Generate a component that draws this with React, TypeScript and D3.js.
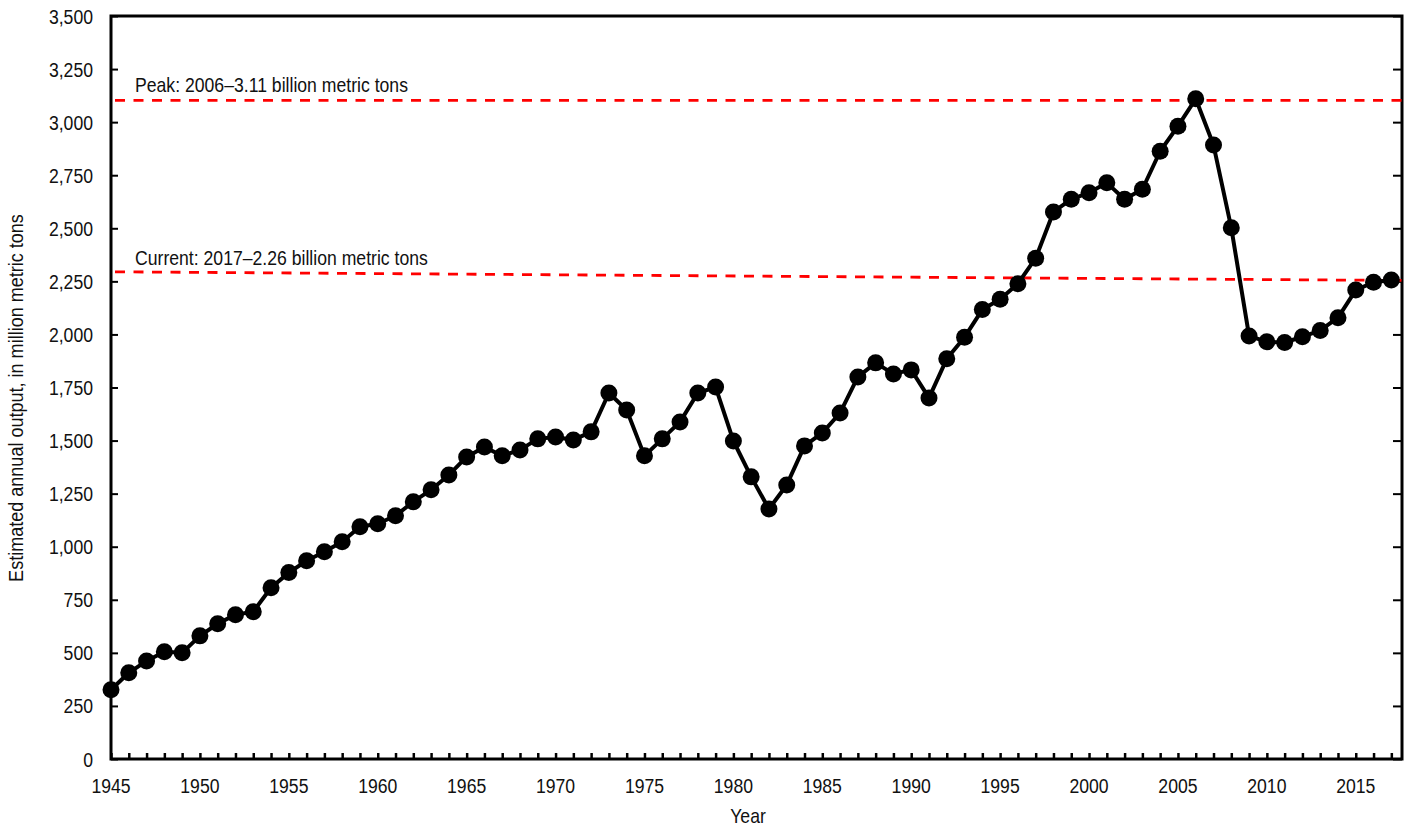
import { useEffect, useRef } from 'react'
import * as d3 from 'd3'

// Years of the series
const YEARS = d3.range(1945, 2018)

// Estimated annual output, million metric tons
const OUTPUT = [
  326, 406, 462, 505, 500, 580, 637, 680, 694, 807,
  878, 934, 976, 1023, 1094, 1108, 1146, 1212, 1268, 1338,
  1423, 1470, 1428, 1456, 1508, 1517, 1503, 1541, 1724, 1644,
  1428, 1508, 1588, 1724, 1752, 1498, 1329, 1178, 1291, 1475,
  1536, 1630, 1800, 1866, 1814, 1833, 1701, 1885, 1987, 2117,
  2166, 2239, 2359, 2577, 2637, 2667, 2714, 2637, 2684, 2863,
  2981, 3110, 2892, 2502, 1993, 1965, 1962, 1989, 2019, 2079,
  2209, 2246, 2256,
]

// Reference lines (start / end values as drawn)
const PEAK_LINE = [3103, 3103]
const CURRENT_LINE = [2295, 2254]
const PEAK_LABEL = 'Peak: 2006\u20133.11 billion metric tons'
const CURRENT_LABEL = 'Current: 2017\u20132.26 billion metric tons'

const Y_TICKS = d3.range(0, 3501, 250)
const X_LABELS = d3.range(1945, 2016, 5)

// condensed look: Liberation Sans squeezed horizontally
const FONT = '"Liberation Sans", Arial, sans-serif'
const FS = 20.5
const SQUEEZE = 0.86

const App = () => {
  const svgRef = useRef<SVGSVGElement>(null)

  useEffect(() => {
    if (!svgRef.current) return
    const svg = d3.select(svgRef.current)
    svg.selectAll('*').remove()

    const left = 111
    const right = 1402
    const top = 16
    const bottom = 759

    const x = d3.scaleLinear().domain([1945, 2017.6]).range([left, right])
    const y = d3.scaleLinear().domain([0, 3500]).range([bottom, top])

    const label = (tx: number, ty: number, txt: string, anchor = 'start', sx = SQUEEZE, rot = 0) =>
      svg.append('text')
        .attr('transform', `translate(${tx},${ty}) rotate(${rot}) scale(${sx},1)`)
        .attr('text-anchor', anchor)
        .attr('font-family', FONT)
        .attr('font-size', FS)
        .attr('fill', '#111')
        .text(txt)

    // y ticks, left (inward)
    const yAxis = svg.append('g')
      .attr('transform', `translate(${left},0)`)
      .call(d3.axisLeft(y).tickValues(Y_TICKS).tickFormat(() => '')
        .tickSizeInner(-7).tickSizeOuter(0))
    yAxis.select('.domain').remove()
    yAxis.selectAll('line').attr('stroke', '#000').attr('stroke-width', 2)

    // mirrored ticks on the right
    const yAxisR = svg.append('g')
      .attr('transform', `translate(${right},0)`)
      .call(d3.axisRight(y).tickValues(Y_TICKS).tickFormat(() => '')
        .tickSizeInner(-9).tickSizeOuter(0))
    yAxisR.select('.domain').remove()
    yAxisR.selectAll('line').attr('stroke', '#000').attr('stroke-width', 2)

    // x ticks every year
    const xAxis = svg.append('g')
      .attr('transform', `translate(0,${bottom})`)
      .call(d3.axisBottom(x).tickValues(YEARS).tickFormat(() => '')
        .tickSizeInner(-6).tickSizeOuter(0))
    xAxis.select('.domain').remove()
    xAxis.selectAll('line').attr('stroke', '#000').attr('stroke-width', 2.5)

    // tick labels
    const fmt = d3.format(',')
    Y_TICKS.forEach(t => label(93, y(t) + 7.5, fmt(t), 'end'))
    X_LABELS.forEach(t => label(x(t), 793, String(t), 'middle'))

    // plot frame
    svg.append('rect')
      .attr('x', left).attr('y', top)
      .attr('width', right - left).attr('height', bottom - top)
      .attr('fill', 'none').attr('stroke', '#000').attr('stroke-width', 3)

    // dashed reference lines
    const refs = [
      { vals: PEAK_LINE, text: PEAK_LABEL, off: 8 },
      { vals: CURRENT_LINE, text: CURRENT_LABEL, off: 7 },
    ]
    refs.forEach(r => {
      svg.append('line')
        .attr('x1', left + 4).attr('y1', y(r.vals[0]))
        .attr('x2', right + 5).attr('y2', y(r.vals[1]))
        .attr('stroke', '#f00').attr('stroke-width', 2.8)
        .attr('stroke-dasharray', '10,8.5')
      label(135, y(r.vals[0]) - r.off, r.text)
    })

    // the series
    const data = YEARS.map((yr, i) => ({ yr, v: OUTPUT[i] }))
    const line = d3.line<{ yr: number, v: number }>()
      .x(d => x(d.yr))
      .y(d => y(d.v))
    svg.append('path')
      .attr('d', line(data) || '')
      .attr('fill', 'none')
      .attr('stroke', '#000')
      .attr('stroke-width', 4)
      .attr('stroke-linejoin', 'round')

    svg.selectAll('.dot')
      .data(data)
      .enter()
      .append('circle')
      .attr('class', 'dot')
      .attr('cx', d => x(d.yr))
      .attr('cy', d => y(d.v))
      .attr('r', 8.5)
      .attr('fill', '#000')

    // axis titles
    label(748, 823, 'Year', 'middle')
    label(23, 398, 'Estimated annual output, in million metric tons', 'middle', 0.88, -90)
  }, [])

  return (
    <svg
      ref={svgRef}
      width={1414}
      height={827}
      style={{ position: 'absolute', left: 0, top: 0, background: '#fff' }}
    />
  )
}

export default App
